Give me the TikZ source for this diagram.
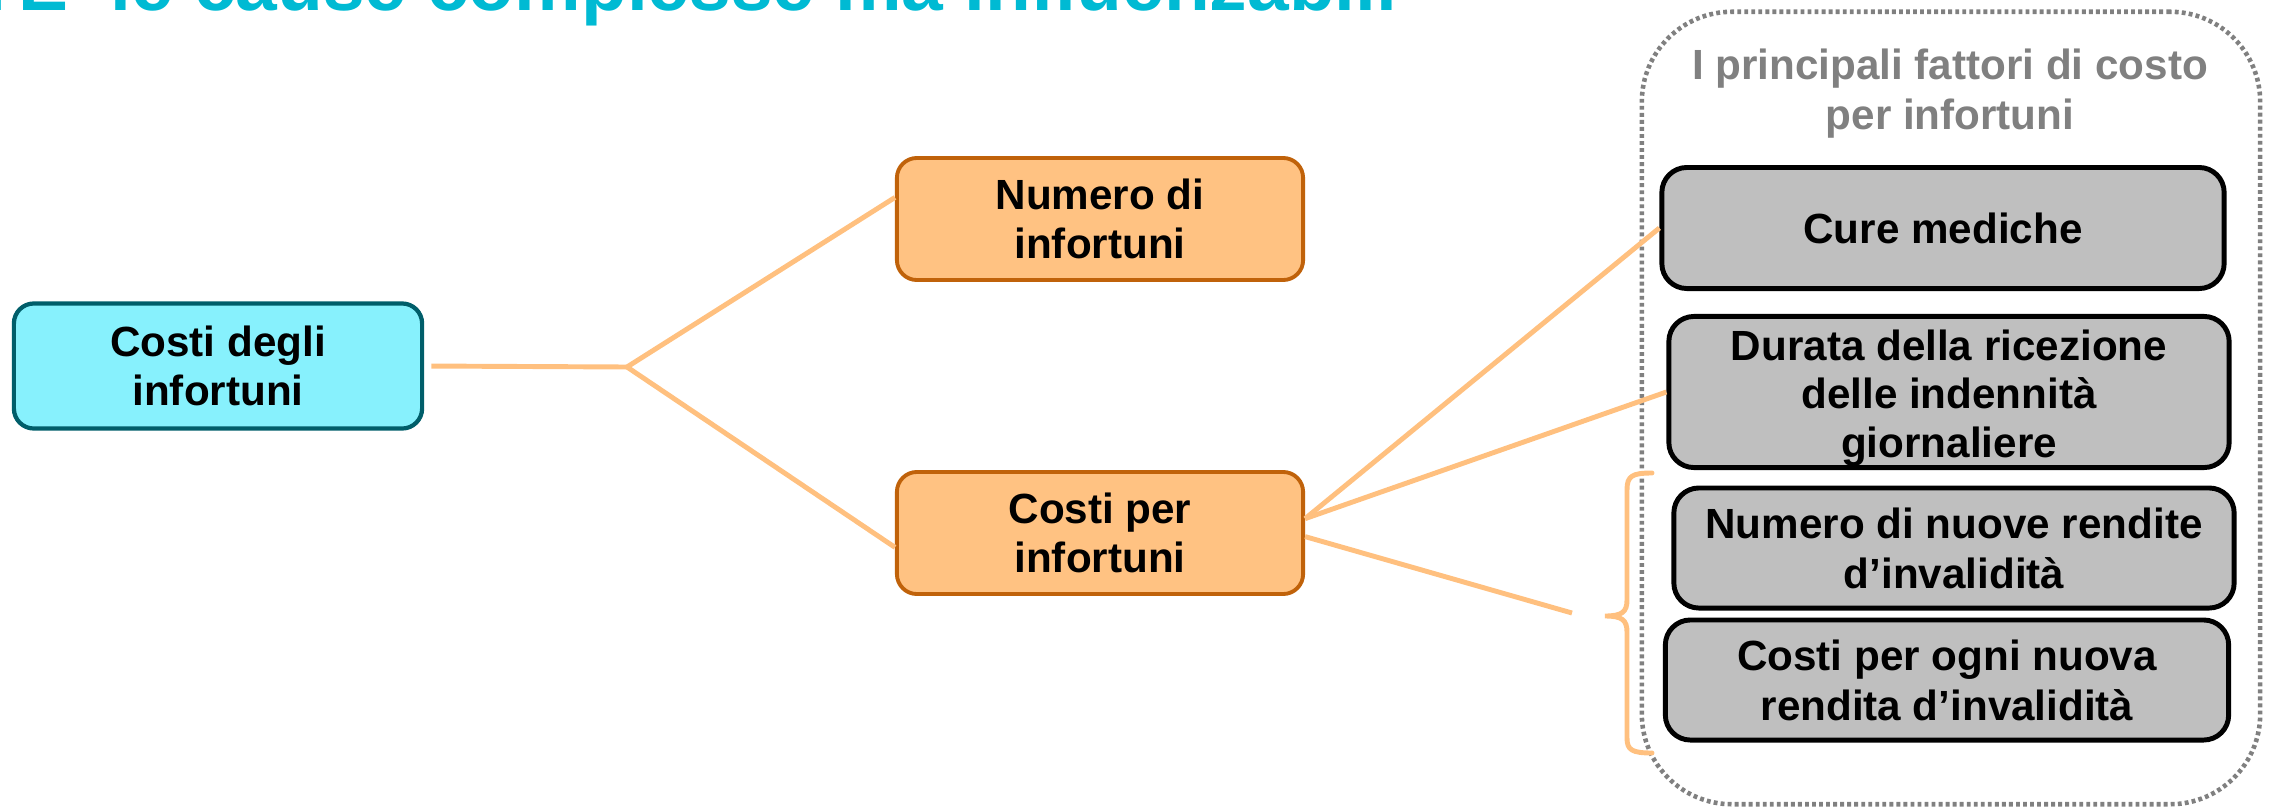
\documentclass[tikz,border=0pt]{standalone}
\usepackage{fontspec}
\setmainfont{Liberation Sans}
\usetikzlibrary{positioning,calc}
\definecolor{titlecyan}{HTML}{00BAD3}
\definecolor{rootfill}{HTML}{87F1FD}
\definecolor{rootline}{HTML}{005E6A}
\definecolor{midfill}{HTML}{FFC282}
\definecolor{midline}{HTML}{C0620A}
\definecolor{factorfill}{HTML}{BFBFBF}
\definecolor{linkorange}{HTML}{FFC07F}
\definecolor{framegray}{HTML}{808080}
\tikzset{
  box/.style={rounded corners=0.2cm, align=center, inner sep=0pt,
    font=\bfseries\fontsize{12}{13.8}\selectfont},
  rootbox/.style={box, draw=rootline, fill=rootfill, line width=1.2pt,
    minimum width=4.08cm, minimum height=1.25cm},
  midbox/.style={box, draw=midline, fill=midfill, line width=1.1pt,
    minimum width=4.06cm, minimum height=1.22cm},
  factorbox/.style={box, rounded corners=0.25cm, draw=black, fill=factorfill,
    line width=1.4pt, minimum width=5.6cm, minimum height=1.2cm,
    font=\bfseries\fontsize{12}{14.2}\selectfont},
  link/.style={draw=linkorange, line width=1.4pt},
}
\begin{document}
\begin{tikzpicture}[x=0.01cm,y=-0.01cm]
    \useasboundingbox (0,0) rectangle (2272,809);
    % title, cut at the top
    \node[anchor=base east, inner sep=0pt, text=titlecyan,
      font=\bfseries\fontsize{21.3}{26}\selectfont] (title) at (1398,11)
      {I\hspace{0.17em}E\hspace{0.56em}le cause complesse ma influenzabili};
    % frame of the cost factors
    \node[draw=framegray, line width=1.3pt, dash pattern=on 1.1pt off 0.9pt,
      rounded corners=0.9cm, minimum width=6.18cm, minimum height=7.92cm]
      (frame) at (1951,408) {};
    \node[align=center, text=framegray, inner sep=0pt,
      font=\bfseries\fontsize{12}{14.2}\selectfont]
      (framehead) at (1950,94) {I principali fattori di costo\\per infortuni};
    % boxes
    \node[rootbox] (costi) at (218,366) {Costi degli\\infortuni};
    \node[midbox] (numero) at (1100,219) {Numero di\\infortuni};
    \node[midbox] (costiper) at (1100,533) {Costi per\\infortuni};
    \node[factorbox, minimum width=5.62cm, minimum height=1.21cm] (cure) at (1943,228) {Cure mediche};
    \node[factorbox, minimum height=1.51cm, font=\bfseries\fontsize{12}{13.8}\selectfont]
      (durata) at (1949,392) {\rule{0pt}{12pt}Durata della ricezione\\delle indennità\\giornaliere};
    \node[factorbox] (rendite) at (1954,548) {Numero di nuove rendite\\d’invalidità};
    \node[factorbox, minimum width=5.63cm] (ogni) at (1947,680) {Costi per ogni nuova\\rendita d’invalidità};
    % connectors
    \coordinate (split) at (627,367);
    \coordinate (braceend) at (1572,613);
    \draw[link, shorten <=2pt] (costi.east) -- (split);
    \draw[link] (split) -- (numero.174);
    \draw[link] (split) -- (costiper.184);
    \draw[link] (costiper.4) -- (cure.west);
    \draw[link] (costiper.4) -- (durata.west);
    \draw[link] (costiper.-1) -- (braceend);
    % brace
    \draw[link, line cap=round] (1652,473) .. controls (1632,473) and (1627,476) .. (1627,490)
      -- (1627,600) .. controls (1627,612) and (1622,616) .. (1605,616)
      .. controls (1622,616) and (1627,620) .. (1627,632)
      -- (1627,738) .. controls (1627,750) and (1632,753) .. (1652,753);
\end{tikzpicture}
\end{document}
